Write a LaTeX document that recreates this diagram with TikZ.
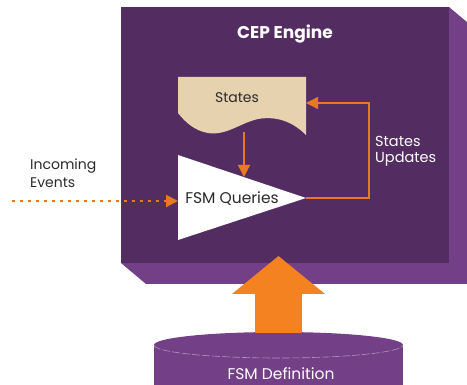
\documentclass[tikz,border=0pt]{standalone}
\usepackage{fontspec}
\setmainfont{Poppins}
\usetikzlibrary{arrows.meta}
\definecolor{enginedark}{HTML}{532D62}
\definecolor{enginelight}{HTML}{733F86}
\definecolor{statesfill}{HTML}{E6D2AE}
\definecolor{flow}{HTML}{E8791F}
\definecolor{bigorange}{HTML}{F58220}
\definecolor{inktext}{HTML}{2A2A2A}
\definecolor{rimline}{HTML}{B592C4}
\tikzset{
  lbl/.style={inner sep=0pt, font=\fontsize{14}{16}\selectfont},
  whitelbl/.style={lbl, text=white},
  darklbl/.style={lbl, text=inktext},
  flowline/.style={draw=flow, line width=1.3pt, -{Triangle[length=12pt,width=12pt]}},
  eventline/.style={draw=flow, line width=2pt, dash pattern=on 2.5pt off 5.5pt,
    -{Triangle[length=12pt,width=12pt]}},
  feedarrow/.style={line width=47pt, draw=bigorange,
    -{Triangle[length=38pt 0 0,width=91pt 0 0]}},
}
\begin{document}
\begin{tikzpicture}[x=1pt,y=-1pt]
\useasboundingbox (0,0) rectangle (467,385);
\clip (0,0) rectangle (467,385);

% engine box with its extruded side
\fill[enginelight] (449,7) -- (474,28) -- (474,284) -- (146,284) -- (121,263) -- (449,263) -- cycle;
\node[fill=enginedark, inner sep=0pt, minimum width=328pt, minimum height=256pt, anchor=north west]
  (engine) at (121,7) {};
\node[whitelbl, font=\bfseries\fontsize{17}{19}\selectfont] (title) at (285,34) {CEP Engine};

% states document
\fill[statesfill] (178,77) -- (306,77) -- (306,135)
  .. controls (292,121) and (276,116) .. (258,119)
  .. controls (240,123) and (226,136) .. (208,133)
  .. controls (195,131) and (185,122) .. (178,113) -- cycle;
\node[darklbl, font=\fontsize{14}{16}\selectfont] (states) at (237,98) {States};
\coordinate (statesbot) at (244,132);
\coordinate (statesright) at (306,103);

% query triangle
\fill[white] (178,155) -- (306,198) -- (178,240) -- cycle;
\node[darklbl, font=\fontsize{15.5}{17}\selectfont] (fsm) at (232,199) {FSM Queries};
\coordinate (fsmtop) at (244,177);
\coordinate (fsmtip) at (306,198);
\coordinate (fsmleft) at (178,201);
\coordinate (loopcorner) at (369,198);

% connectors inside the engine
\draw[flowline] (statesbot) -- (fsmtop);
\draw[flowline] (fsmtip) -- (loopcorner) |- (statesright);
\node[whitelbl, align=left, anchor=north west, font=\fontsize{14.5}{16.5}\selectfont] (updates) at (375,136) {States\\Updates};

% incoming events
\coordinate (eventsrc) at (12,201);
\draw[eventline] (eventsrc) -- (fsmleft);
\node[darklbl, align=left, anchor=north west, font=\fontsize{14}{18}\selectfont] (events) at (30,159) {Incoming\\Events};

% definition store
\fill[enginelight] (154,345) rectangle (403,400);
\fill[enginelight] (278.5,345) ellipse [x radius=124.5pt, y radius=13pt];
\draw[rimline, line width=0.6pt, dash pattern=on 8pt off 2pt] (154,345) arc[start angle=180, end angle=360, x radius=124.5pt, y radius=13pt];
\node[whitelbl, font=\fontsize{15.5}{17}\selectfont] (fsmdef) at (281,374) {FSM Definition};
\coordinate (deftop) at (278.5,333);
\coordinate (enginein) at (278.5,256);
\draw[feedarrow] (deftop) -- (enginein);
\end{tikzpicture}
\end{document}
